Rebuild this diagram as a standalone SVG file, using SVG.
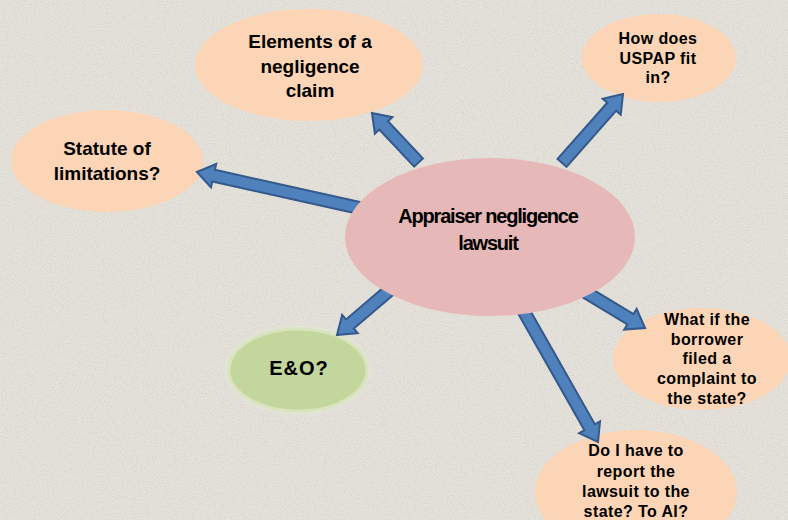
<svg xmlns="http://www.w3.org/2000/svg" width="788" height="520" viewBox="0 0 788 520">
<defs>
<filter id="noise" x="0" y="0" width="100%" height="100%">
<feTurbulence type="fractalNoise" baseFrequency="0.9" numOctaves="2" seed="3" result="t"/>
<feColorMatrix in="t" type="matrix" values="0 0 0 0 0.55  0 0 0 0 0.54  0 0 0 0 0.5  0 0 0 1.2 -0.45"/>
</filter>
<filter id="glow" x="-20%" y="-20%" width="140%" height="140%">
<feGaussianBlur stdDeviation="2"/>
</filter>
<style>
.peach{fill:#fbd5b5;}
.t{font-family:"Liberation Sans",Arial,sans-serif;font-weight:bold;fill:#000;text-anchor:middle;}
.s{letter-spacing:0.4px;}
.arr{fill:#4f81bd;stroke:#34598a;stroke-width:2;stroke-linejoin:miter;}
</style>
</defs>
<rect width="788" height="520" fill="#e6e3dc"/>
<rect width="788" height="520" filter="url(#noise)" opacity="0.8"/>

<g id="node-elements">
<ellipse class="peach" cx="309" cy="65" rx="114" ry="56"/>
<text class="t" font-size="19" x="310" y="48">Elements of a</text>
<text class="t" font-size="19" x="310" y="73">negligence</text>
<text class="t" font-size="19" x="310" y="97">claim</text>
</g>
<g id="node-statute">
<ellipse class="peach" cx="107" cy="161" rx="96" ry="51"/>
<text class="t" font-size="19" x="107" y="155">Statute of</text>
<text class="t" font-size="19" x="107" y="180">limitations?</text>
</g>
<g id="node-uspap">
<ellipse class="peach" cx="659" cy="58" rx="77" ry="44"/>
<text class="t s" font-size="16" x="658" y="44">How does</text>
<text class="t s" font-size="16" x="658" y="64">USPAP fit</text>
<text class="t s" font-size="16" x="658" y="83">in?</text>
</g>
<g id="node-eo">
<ellipse cx="298" cy="370" rx="71" ry="43" fill="#e3ecd0" filter="url(#glow)"/>
<ellipse cx="298" cy="370" rx="69" ry="41" fill="#c3d69b" stroke="#d7e4bd" stroke-width="3"/>
<text class="t" font-size="20" letter-spacing="1" x="299" y="375">E&amp;O?</text>
</g>
<g id="node-whatif">
<ellipse class="peach" cx="702" cy="359" rx="89" ry="51"/>
<text class="t s" font-size="16" x="707" y="325">What if the</text>
<text class="t s" font-size="16" x="707" y="345">borrower</text>
<text class="t s" font-size="16" x="707" y="364">filed a</text>
<text class="t s" font-size="16" x="707" y="384">complaint to</text>
<text class="t s" font-size="16" x="707" y="404">the state?</text>
</g>
<g id="node-report">
<ellipse class="peach" cx="636" cy="492" rx="101" ry="62"/>
<text class="t s" font-size="16" x="636" y="456">Do I have to</text>
<text class="t s" font-size="16" x="636" y="477">report the</text>
<text class="t s" font-size="16" x="636" y="497">lawsuit to the</text>
<text class="t s" font-size="16" x="636" y="517">state? To AI?</text>
</g>

<g id="connectors">
<path class="arr" transform="translate(372,113) rotate(-133.2)" d="M0,0 L-17,-12 L-17,-6 L-68,-6 L-68,6 L-17,6 L-17,12 Z"/>
<path class="arr" transform="translate(197,172) rotate(-167.5)" d="M0,0 L-17,-12 L-17,-6 L-167,-6 L-167,6 L-17,6 L-17,12 Z"/>
<path class="arr" transform="translate(623,94) rotate(-48.5)" d="M0,0 L-17,-12 L-17,-6 L-92,-6 L-92,6 L-17,6 L-17,12 Z"/>
<path class="arr" transform="translate(337,335) rotate(139.5)" d="M0,0 L-17,-12 L-17,-6 L-72,-6 L-72,6 L-17,6 L-17,12 Z"/>
<path class="arr" transform="translate(645,328) rotate(31.1)" d="M0,0 L-17,-12 L-17,-6 L-74,-6 L-74,6 L-17,6 L-17,12 Z"/>
<path class="arr" transform="translate(598,442) rotate(60.4)" d="M0,0 L-17,-12 L-17,-6 L-154,-6 L-154,6 L-17,6 L-17,12 Z"/>
</g>

<g id="node-center">
<ellipse cx="490" cy="237" rx="145" ry="79" fill="#e6b9b8"/>
<text class="t" font-size="20" letter-spacing="-1.2" x="488" y="223">Appraiser negligence</text>
<text class="t" font-size="20" letter-spacing="-1.2" x="488" y="250">lawsuit</text>
</g>
</svg>
